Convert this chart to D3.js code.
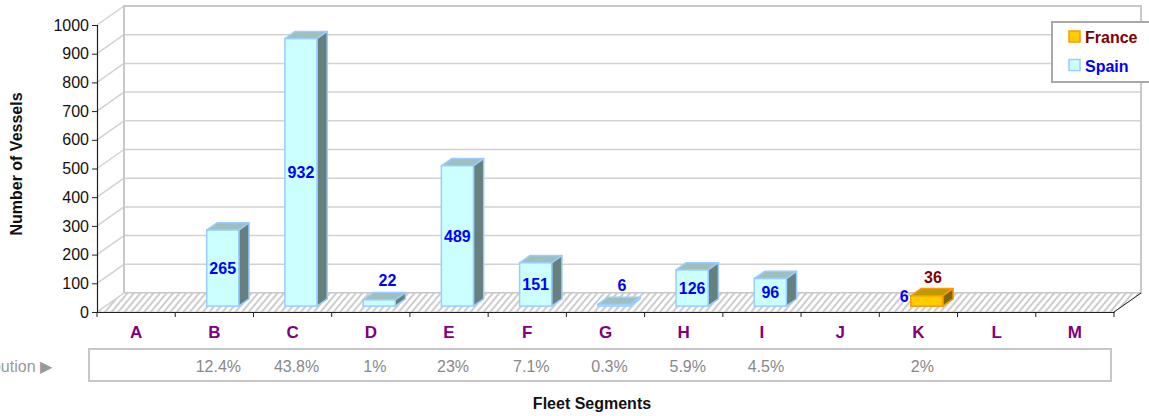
<!DOCTYPE html>
<html>
<head>
<meta charset="utf-8">
<script src="https://cdn.jsdelivr.net/npm/d3@7"></script>
<style>
  html, body { margin: 0; padding: 0; background: #fff; }
  svg { display: block; font-family: Arial, "Liberation Sans", sans-serif; }
</style>
</head>
<body>
<svg id="chart" width="1149" height="416"></svg>
<script>
// ---- data ----
const categories = ["A","B","C","D","E","F","G","H","I","J","K","L","M"];
const spainValues  = [null, 265, 932, 22, 489, 151, 6, 126, 96, null, 6, null, null];
const franceValues = [null, null, null, null, null, null, null, null, null, null, 36, null, null];
const distribution = ["", "12.4%", "43.8%", "1%", "23%", "7.1%", "0.3%", "5.9%", "4.5%", "", "2%", "", ""];
const yTicks = [0,100,200,300,400,500,600,700,800,900,1000];
const seriesNames = ["France", "Spain"];

(function () {
// ---- layout ----
const svg = d3.select("#chart");
const pL = 97, pR = 1114, pB = 312, pT = 25;
const DX = 27, DY = 19;           // depth of the 3D box
const z0 = 0.31, z1 = 0.69;       // bar depth placement

const x = d3.scaleBand().domain(categories).range([pL, pR]).paddingInner(0).paddingOuter(0);
const y = d3.scaleLinear().domain([0, 1000]).range([pB, pT]);
const bw = x.bandwidth();
const barW = bw * 0.41;

const gridColor = "#d2d2d2";

// hatch pattern for floor
const defs = svg.append("defs");
const pat = defs.append("pattern").attr("id", "hatch").attr("patternUnits", "userSpaceOnUse")
  .attr("width", 5).attr("height", 5).attr("patternTransform", "rotate(40)");
pat.append("rect").attr("width", 5).attr("height", 5).attr("fill", "#fff");
pat.append("line").attr("x1", 1).attr("y1", 0).attr("x2", 1).attr("y2", 5)
  .attr("stroke", "#b8b8b8").attr("stroke-width", 1.4);

// back wall
svg.append("rect").attr("x", pL + DX).attr("y", y(1000) - DY)
  .attr("width", pR - pL).attr("height", y(0) - y(1000))
  .attr("fill", "#fff").attr("stroke", "#c8c8c8").attr("stroke-width", 2);

// floor
svg.append("polygon")
  .attr("points", [[pL, pB], [pR, pB], [pR + DX, pB - DY], [pL + DX, pB - DY]].map(p => p.join(",")).join(" "))
  .attr("fill", "url(#hatch)").attr("stroke", "#c8c8c8").attr("stroke-width", 1);

// gridlines: left wall diagonals + back wall horizontals
yTicks.forEach(v => {
  const yy = y(v);
  svg.append("line").attr("x1", pL).attr("y1", yy).attr("x2", pL + DX).attr("y2", yy - DY)
    .attr("stroke", gridColor).attr("stroke-width", 1.5);
  if (v > 0 && v < 1000) {
    svg.append("line").attr("x1", pL + DX).attr("y1", yy - DY).attr("x2", pR + DX).attr("y2", yy - DY)
      .attr("stroke", gridColor).attr("stroke-width", 1.5);
  }
});
// left wall back edge
svg.append("line").attr("x1", pL + DX).attr("y1", y(1000) - DY).attr("x2", pL + DX).attr("y2", y(0) - DY)
  .attr("stroke", "#c8c8c8").attr("stroke-width", 2);

// right floor edge (dark)
svg.append("line").attr("x1", pR).attr("y1", pB).attr("x2", pR + DX).attr("y2", pB - DY)
  .attr("stroke", "#222").attr("stroke-width", 1);

// ---- bars ----
const styles = {
  Spain:  { front: "#CCFFFF", top: "#9DBFBF", side: "#667F7F", stroke: "#99CCFF", label: "#0000FF" },
  France: { front: "#FFCC00", top: "#BF9900", side: "#806600", stroke: "#FF9900", label: "#800000" }
};
const ddx = DX * (z1 - z0), ddy = DY * (z1 - z0);

function drawBar(cat, v, s) {
  const fx = x(cat) + (bw - barW) / 2 + DX * z0;
  const fyb = y(0) - DY * z0;
  const fyt = y(v) - DY * z0;
  const g = svg.append("g");
  const pts = a => a.map(p => p.join(",")).join(" ");
  g.append("polygon").attr("points", pts([[fx, fyt], [fx + barW, fyt], [fx + barW + ddx, fyt - ddy], [fx + ddx, fyt - ddy]]))
    .attr("fill", s.top).attr("stroke", s.stroke).attr("stroke-width", 1.5).attr("stroke-linejoin", "round");
  g.append("polygon").attr("points", pts([[fx + barW, fyt], [fx + barW + ddx, fyt - ddy], [fx + barW + ddx, fyb - ddy], [fx + barW, fyb]]))
    .attr("fill", s.side).attr("stroke", s.stroke).attr("stroke-width", 1.5).attr("stroke-linejoin", "round");
  g.append("rect").attr("x", fx).attr("y", fyt).attr("width", barW).attr("height", fyb - fyt)
    .attr("fill", s.front).attr("stroke", s.stroke).attr("stroke-width", 1.5);
  return { fx, fyt, fyb };
}

const labels = [];
categories.forEach((c, i) => {
  const sv = spainValues[i], fv = franceValues[i];
  if (sv != null) {
    const b = drawBar(c, sv, styles.Spain);
    const h = b.fyb - b.fyt;
    if (fv != null && fv > sv) {
      labels.push({ x: b.fx - 2, y: b.fyb - 10, t: sv, c: styles.Spain.label, anchor: "end" });
    } else if (h >= 24) {
      labels.push({ x: b.fx + barW / 2, y: (b.fyt + b.fyb) / 2, t: sv, c: styles.Spain.label, anchor: "middle" });
    } else {
      labels.push({ x: b.fx + barW / 2 + ddx * 0.8, y: b.fyt - ddy - 12, t: sv, c: styles.Spain.label, anchor: "middle" });
    }
  }
  if (fv != null) {
    const b = drawBar(c, fv, styles.France);
    labels.push({ x: b.fx + barW / 2 + ddx * 0.6, y: b.fyt - ddy - 11, t: fv, c: styles.France.label, anchor: "middle" });
  }
});
labels.forEach(l => {
  svg.append("text").attr("x", l.x).attr("y", l.y).attr("dy", "0.36em")
    .attr("text-anchor", l.anchor).attr("font-size", 16).attr("font-weight", "bold")
    .attr("fill", l.c).text(l.t);
});

// ---- axes ----
const yAxis = d3.axisLeft(y).tickValues(yTicks).tickSize(5).tickPadding(3).tickFormat(d3.format("d"));
const gy = svg.append("g").attr("transform", `translate(${pL},0)`).call(yAxis);
gy.select(".domain").attr("stroke", "#222").attr("stroke-width", 1.2);
gy.selectAll(".tick line").attr("stroke", "#222");
gy.selectAll(".tick text").attr("font-size", 16).attr("fill", "#111").attr("font-family", "Arial, 'Liberation Sans', sans-serif");

const xAxis = d3.axisBottom(x).tickSize(0).tickPadding(14);
const gx = svg.append("g").attr("transform", `translate(0,${pB})`).call(xAxis);
gx.select(".domain").attr("stroke", "#222").attr("stroke-width", 1.2);
gx.selectAll(".tick text").attr("font-size", 17).attr("font-weight", "bold").attr("fill", "#800080")
  .attr("font-family", "Arial, 'Liberation Sans', sans-serif");
// boundary ticks
const bounds = categories.map(c => x(c)).concat([pR]);
gx.selectAll(".btick").data(bounds).enter().append("line")
  .attr("x1", d => d).attr("x2", d => d).attr("y1", 0).attr("y2", 5)
  .attr("stroke", "#222").attr("stroke-width", 1);

// ---- distribution table ----
svg.append("rect").attr("x", 89).attr("y", 349).attr("width", 1111 - 89).attr("height", 32)
  .attr("fill", "#fff").attr("stroke", "#c8c8c8").attr("stroke-width", 2);
svg.append("text").attr("x", 52).attr("y", 366).attr("dy", "0.36em").attr("text-anchor", "end")
  .attr("font-size", 16).attr("fill", "#999").text("Distribution \u25B6");
categories.forEach((c, i) => {
  if (distribution[i]) {
    svg.append("text").attr("x", x(c) + bw / 2 + 4).attr("y", 366).attr("dy", "0.36em")
      .attr("text-anchor", "middle").attr("font-size", 16).attr("fill", "#888").text(distribution[i]);
  }
});

// ---- axis titles ----
svg.append("text").attr("x", 592).attr("y", 403).attr("dy", "0.36em").attr("text-anchor", "middle")
  .attr("font-size", 16).attr("font-weight", "bold").attr("fill", "#111").text("Fleet Segments");
svg.append("text").attr("transform", "translate(16,164) rotate(-90)").attr("dy", "0.36em")
  .attr("text-anchor", "middle").attr("font-size", 16).attr("font-weight", "bold").attr("fill", "#111")
  .text("Number of Vessels");

// ---- legend ----
const lg = svg.append("g");
lg.append("rect").attr("x", 1052).attr("y", 22).attr("width", 120).attr("height", 60)
  .attr("fill", "#fff").attr("stroke", "#a8a8a8").attr("stroke-width", 2);
seriesNames.forEach((n, i) => {
  const s = styles[n];
  const yy = 31 + i * 28.5;
  lg.append("rect").attr("x", 1069).attr("y", yy).attr("width", 11).attr("height", 11)
    .attr("fill", s.front).attr("stroke", s.stroke).attr("stroke-width", 1.5);
  lg.append("text").attr("x", 1085).attr("y", yy + 12).attr("font-size", 16).attr("font-weight", "bold")
    .attr("fill", s.label).text(n);
});
})();
</script>
</body>
</html>
